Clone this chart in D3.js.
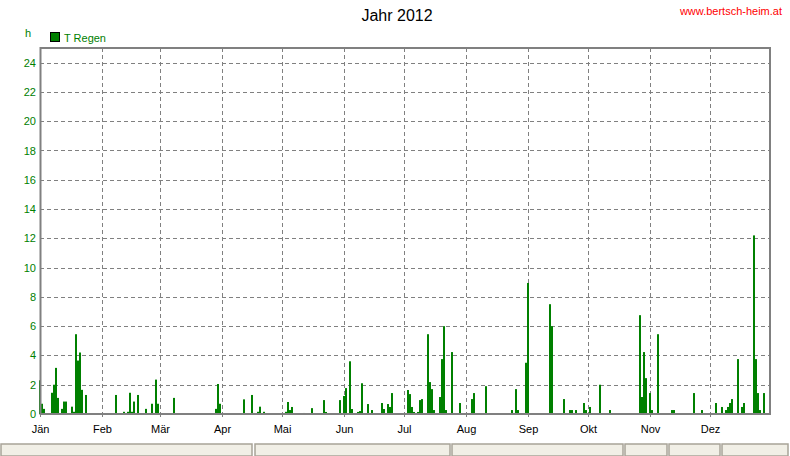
<!DOCTYPE html>
<html><head><meta charset="utf-8">
<script src="https://cdn.jsdelivr.net/npm/d3@7"></script>
<style>
html,body{margin:0;padding:0;background:#fff;}
svg{display:block;font-family:"Liberation Sans",Arial,sans-serif;}
</style></head>
<body><svg id="c" width="790" height="456"></svg>
<script>
const title = "Jahr 2012";
const site = "www.bertsch-heim.at";
const unitLabel = "h";
const seriesName = "T Regen";
const monthLabels = ["Jän","Feb","Mär","Apr","Mai","Jun","Jul","Aug","Sep","Okt","Nov","Dez"];
const yTicks = [0,2,4,6,8,10,12,14,16,18,20,22,24];
const rainDates = [
"2012-01-01","2012-01-02","2012-01-03","2012-01-07","2012-01-08","2012-01-09","2012-01-10","2012-01-12","2012-01-13","2012-01-14",
"2012-01-17","2012-01-18","2012-01-19","2012-01-20","2012-01-21","2012-01-22","2012-01-24",
"2012-02-08","2012-02-12","2012-02-14","2012-02-15","2012-02-16","2012-02-17","2012-02-19","2012-02-23","2012-02-26","2012-02-28","2012-02-29",
"2012-03-08","2012-03-29","2012-03-30","2012-03-31",
"2012-04-12","2012-04-16","2012-04-17","2012-04-19","2012-04-20","2012-04-22",
"2012-05-03","2012-05-04","2012-05-05","2012-05-06","2012-05-12","2012-05-16","2012-05-22","2012-05-23","2012-05-30",
"2012-06-01","2012-06-02","2012-06-04","2012-06-05","2012-06-08","2012-06-09","2012-06-10","2012-06-13","2012-06-14","2012-06-15",
"2012-06-20","2012-06-21","2012-06-23","2012-06-24","2012-06-25",
"2012-07-03","2012-07-04","2012-07-05","2012-07-06","2012-07-08","2012-07-09","2012-07-10","2012-07-13","2012-07-14","2012-07-15",
"2012-07-16","2012-07-19","2012-07-20","2012-07-21","2012-07-22","2012-07-25","2012-07-29",
"2012-08-04","2012-08-05","2012-08-11","2012-08-24","2012-08-26","2012-08-27","2012-08-31",
"2012-09-01","2012-09-12","2012-09-13","2012-09-19","2012-09-22","2012-09-23","2012-09-25","2012-09-29","2012-09-30",
"2012-10-02","2012-10-07","2012-10-12","2012-10-27","2012-10-28","2012-10-29","2012-10-30",
"2012-11-01","2012-11-02","2012-11-05","2012-11-12","2012-11-13","2012-11-23","2012-11-27",
"2012-12-04","2012-12-07","2012-12-09","2012-12-10","2012-12-11","2012-12-12","2012-12-15","2012-12-17","2012-12-18",
"2012-12-23","2012-12-24","2012-12-25","2012-12-26","2012-12-28"];
const rainHours = [
2.3,0.7,0.35,1.45,2.0,3.15,1.1,0.35,0.85,0.85,
0.5,0.15,5.45,3.65,4.2,1.65,1.3,
1.3,0.15,0.15,1.45,0.15,0.85,1.3,0.35,0.7,2.35,0.7,
1.1,0.35,2.05,0.7,
1.0,1.3,0.07,0.15,0.5,0.15,
0.15,0.82,0.27,0.48,0.07,0.4,0.95,0.14,0.95,
1.23,1.77,3.6,0.34,0.14,0.2,2.1,0.68,0.07,0.27,
0.75,0.34,0.68,0.48,1.43,
1.64,1.36,0.48,0.14,0.14,0.95,1.02,5.45,2.18,1.7,
0.27,1.16,3.75,6.0,0.27,4.23,0.75,
1.02,1.43,1.9,0.27,1.7,0.27,3.5,
8.95,7.5,6.0,1.02,0.27,0.27,0.27,0.75,0.27,
0.48,2.0,0.27,6.75,1.16,4.23,2.45,
1.43,0.27,5.45,0.27,0.27,1.43,0.27,
0.75,0.48,0.27,0.48,0.75,1.02,3.75,0.48,0.75,
12.2,3.75,1.43,0.27,1.43];

const parse = d3.utcParse("%Y-%m-%d");
const data = rainDates.map((d,i)=>({date:parse(d), v:rainHours[i]}));
const svg = d3.select("#c");
const L=40, R=770, T=48, B=414;
const x = d3.scaleUtc().domain([parse("2012-01-01"), parse("2012-12-31")]).range([L,R]);
const y = d3.scaleLinear().domain([0,25]).range([B,T]);
const months = d3.utcMonth.range(parse("2012-01-01"), parse("2013-01-01"));
const green = "#008000", grid = "#808080";

// status bar
const panels = [[1,252],[255,450],[452,623],[625,667],[669,720],[722,788]];
svg.append("g").selectAll("rect").data(panels).join("rect")
  .attr("x",d=>d[0]).attr("y",444).attr("width",d=>d[1]-d[0]).attr("height",12)
  .attr("fill","#f1efe6").attr("stroke","#a8a498").attr("stroke-width",1.5);

// gridlines
svg.append("g").selectAll("line").data(yTicks.filter(t=>t>0)).join("line")
  .attr("x1",L).attr("x2",R).attr("y1",d=>Math.round(y(d))+0.5).attr("y2",d=>Math.round(y(d))+0.5)
  .attr("stroke",grid).attr("stroke-dasharray","4,3");
svg.append("g").selectAll("line").data(months.slice(1)).join("line")
  .attr("x1",d=>Math.round(x(d))+0.5).attr("x2",d=>Math.round(x(d))+0.5).attr("y1",T).attr("y2",B)
  .attr("stroke",grid).attr("stroke-dasharray","4,3");

// bars
svg.append("g").selectAll("rect").data(data).join("rect")
  .attr("x",d=>x(d.date)-1).attr("width",2)
  .attr("y",d=>y(d.v)).attr("height",d=>B-y(d.v))
  .attr("fill",green);

// axes
const xAxis = d3.axisBottom(x).tickValues(months).tickSize(3).tickPadding(8)
  .tickFormat((d,i)=>monthLabels[i]);
const gx = svg.append("g").attr("transform",`translate(0,${B})`).call(xAxis);
gx.select(".domain").remove();
gx.selectAll("line").attr("stroke",grid);
gx.selectAll("text").attr("fill","#000").style("font-size","11px").style("font-family","'Liberation Sans',Arial,sans-serif");

const yAxis = d3.axisLeft(y).tickValues(yTicks).tickSize(0).tickPadding(4);
const gy = svg.append("g").attr("transform",`translate(${L},0)`).call(yAxis);
gy.select(".domain").remove();
gy.selectAll("text").attr("fill",green).style("font-size","11px").style("font-family","'Liberation Sans',Arial,sans-serif");

// frame
svg.append("path")
  .attr("d",`M${L+0.5},${B} L${L+0.5},${T} L${R},${T} L${R},${B} Z`)
  .attr("fill","none").attr("stroke",grid).attr("stroke-width",2);
svg.append("line").attr("x1",L).attr("x2",R).attr("y1",B).attr("y2",B).attr("stroke",grid).attr("stroke-width",2);

// texts
svg.append("text").attr("x",397).attr("y",21).attr("text-anchor","middle")
  .style("font-size","16px").attr("fill","#000").text(title);
svg.append("text").attr("x",782).attr("y",15).attr("text-anchor","end")
  .style("font-size","11px").attr("fill","#ff0000").text(site);
svg.append("text").attr("x",25).attr("y",37)
  .style("font-size","11px").attr("fill",green).text(unitLabel);
svg.append("rect").attr("x",50.5).attr("y",32.5).attr("width",9).attr("height",9)
  .attr("fill",green).attr("stroke","#000");
svg.append("text").attr("x",64).attr("y",42)
  .style("font-size","11px").attr("fill",green).text(seriesName);
</script></body></html>
